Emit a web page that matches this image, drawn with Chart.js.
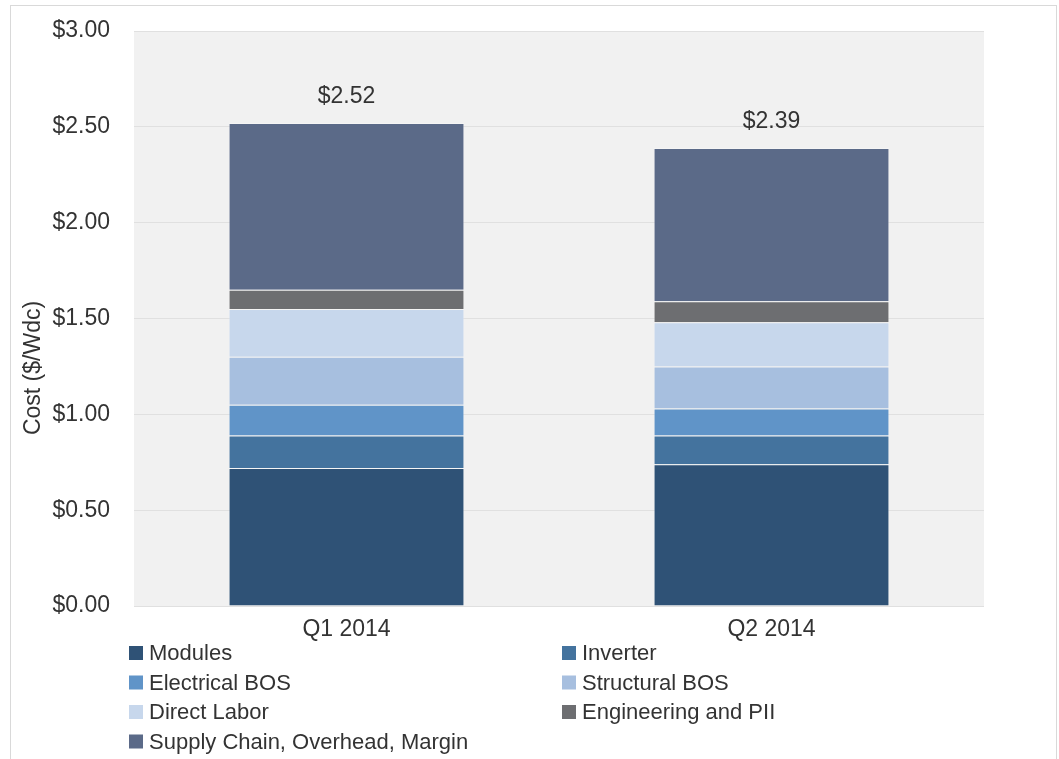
<!DOCTYPE html>
<html>
<head>
<meta charset="utf-8">
<script src="https://cdn.jsdelivr.net/npm/chart.js@4.4.1/dist/chart.umd.min.js"></script>
<style>
    html, body { margin: 0; padding: 0; background: #fff; }
    #wrap { position: relative; width: 1059px; height: 759px; overflow: hidden; }
    #frame { position: absolute; left: 10px; top: 5px; width: 1047px; height: 800px; border: 1px solid #d9d9d9; box-sizing: border-box; }
    canvas { position: absolute; left: 0; top: 0; }
</style>
</head>
<body>
<div id="wrap">
    <div id="frame"></div>
    <canvas id="myChart" width="1059" height="759"></canvas>
</div>
<script>
const quarters = ['Q1 2014', 'Q2 2014'];
const seriesNames = ['Modules', 'Inverter', 'Electrical BOS', 'Structural BOS', 'Direct Labor', 'Engineering and PII', 'Supply Chain, Overhead, Margin'];
const modules = [0.72, 0.74];
const inverter = [0.17, 0.15];
const electricalBos = [0.16, 0.14];
const structuralBos = [0.25, 0.22];
const directLabor = [0.25, 0.23];
const engineering = [0.10, 0.11];
const supplyChain = [0.87, 0.80];
const totals = [2.52, 2.39];
const yTicks = [0, 0.5, 1, 1.5, 2, 2.5, 3];

const colors = ['#2f5276', '#44739e', '#6094c8', '#a7bfdf', '#c7d7ec', '#6d6e71', '#5b6a88'];
const values = [modules, inverter, electricalBos, structuralBos, directLabor, engineering, supplyChain];
const FONT = "'Liberation Sans', Arial, sans-serif";
const TEXT = '#333333';

// fond gris de la zone de tracé
const plotBg = {
    id: 'plotBg',
    beforeDraw(chart) {
        const { ctx, chartArea: a } = chart;
        ctx.save();
        ctx.fillStyle = '#f1f1f1';
        ctx.fillRect(a.left, a.top, a.right - a.left, a.bottom - a.top);
        ctx.restore();
    }
};

// totaux, titre d'axe et légende en deux colonnes
const extras = {
    id: 'extras',
    afterDraw(chart) {
        const { ctx } = chart;
        const x = chart.scales.x;
        const y = chart.scales.y;
        ctx.save();
        ctx.fillStyle = TEXT;
        ctx.font = '23px ' + FONT;
        ctx.textAlign = 'center';
        ctx.textBaseline = 'middle';
        totals.forEach((t, i) => {
            ctx.fillText('$' + t.toFixed(2), x.getPixelForValue(i), y.getPixelForValue(t) - 26);
        });

        ctx.save();
        ctx.translate(34, 368);
        ctx.rotate(-Math.PI / 2);
        ctx.font = '23px ' + FONT;
        ctx.fillText('Cost ($/Wdc)', 0, 0);
        ctx.restore();

        ctx.font = '22px ' + FONT;
        ctx.textAlign = 'left';
        chart.data.datasets.forEach((ds, i) => {
            const col = i % 2;
            const row = Math.floor(i / 2);
            const bx = col === 0 ? 129 : 562;
            const by = 653 + row * 29.5;
            ctx.fillStyle = ds.backgroundColor;
            ctx.fillRect(bx, by - 7, 14, 14);
            ctx.fillStyle = TEXT;
            ctx.fillText(ds.label, bx + 20, by + 1);
        });
        ctx.restore();
    }
};

const ctx = document.getElementById('myChart').getContext('2d');
new Chart(ctx, {
    type: 'bar',
    data: {
        labels: quarters,
        datasets: seriesNames.map((name, i) => ({
            label: name,
            data: values[i],
            backgroundColor: colors[i],
            borderColor: 'rgba(255, 255, 255, 0.3)',
            borderWidth: 1,
            categoryPercentage: 1,
            barPercentage: 0.555
        }))
    },
    options: {
        responsive: false,
        animation: false,
        layout: { padding: { left: 0, top: 31, right: 75, bottom: 0 } },
        plugins: {
            legend: { display: false },
            tooltip: { enabled: false }
        },
        scales: {
            x: {
                stacked: true,
                grid: { display: false },
                border: { display: false },
                ticks: { color: TEXT, font: { family: FONT, size: 23 }, padding: 2 },
                afterFit: (scale) => {
                    scale.height = 153;
                    scale.paddingLeft = 0;
                    scale.paddingRight = 0;
                }
            },
            y: {
                stacked: true,
                min: 0,
                max: 3,
                afterBuildTicks: (scale) => { scale.ticks = yTicks.map(v => ({ value: v })); },
                grid: { color: '#e0e0e0', drawTicks: false },
                border: { display: false },
                ticks: {
                    color: TEXT,
                    font: { family: FONT, size: 23 },
                    padding: 24,
                    callback: (v) => '$' + Number(v).toFixed(2)
                },
                afterFit: (scale) => {
                    scale.width = 134;
                    scale.paddingTop = 0;
                    scale.paddingBottom = 0;
                }
            }
        }
    },
    plugins: [plotBg, extras]
});
</script>
</body>
</html>
